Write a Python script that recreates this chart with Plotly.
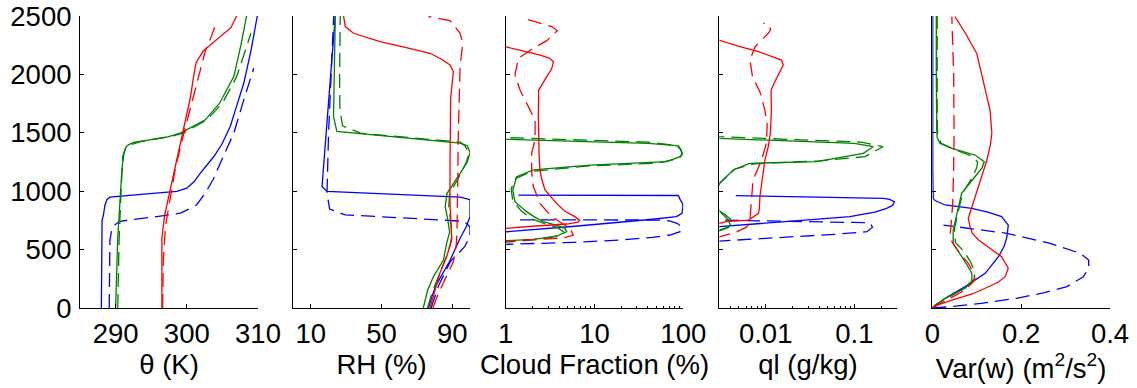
import plotly.graph_objects as go
import math

BLUE = "#0000ff"
GREEN = "#008000"
RED = "#ff0000"

# ---------------- Panel 1: theta (K) ----------------
TH_B_S_Z = [0, 300, 600, 750, 800, 880, 930, 949, 975, 998, 1026, 1080, 1155, 1297, 1400, 1554, 1750, 1924, 2200, 2500]
TH_B_S = [288.0, 288.0, 288.0, 288.1, 288.3, 288.5, 288.8, 289.2, 294.0, 298.6, 300.0, 301.0, 301.9, 303.8, 304.9, 306.1, 307.1, 308.0, 309.0, 309.9]
TH_B_D_Z = [0, 300, 580, 650, 698, 740, 755, 780, 812, 850, 884, 984, 1100, 1240, 1497, 1782, 2053]
TH_B_D = [289.1, 289.1, 289.2, 289.4, 289.6, 290.5, 292.0, 295.5, 299.1, 300.4, 301.4, 302.6, 303.7, 304.7, 306.6, 308.0, 309.4]
TH_G_S_Z = [0, 300, 600, 900, 1200, 1330, 1380, 1397, 1417, 1440, 1463, 1497, 1554, 1611, 1753, 1981, 2250, 2500]
TH_G_S = [290.0, 290.1, 290.3, 290.6, 290.9, 291.2, 291.5, 291.8, 292.5, 294.8, 297.2, 299.1, 300.9, 302.6, 304.6, 306.6, 307.6, 308.4]
TH_G_D_Z = [0, 300, 600, 900, 1200, 1300, 1370, 1400, 1425, 1450, 1475, 1500, 1554, 1611, 1753, 1981, 2200, 2352]
TH_G_D = [290.3, 290.35, 290.5, 290.7, 290.9, 291.0, 291.4, 292.2, 293.5, 296.0, 298.2, 299.6, 301.2, 302.8, 305.0, 307.0, 308.2, 309.0]
TH_R_S_Z = [0, 300, 600, 800, 1000, 1200, 1500, 1800, 2000, 2100, 2200, 2300, 2400, 2500]
TH_R_S = [296.5, 296.5, 296.5, 296.9, 297.6, 298.3, 299.4, 300.5, 301.0, 301.3, 302.3, 304.3, 306.2, 307.0]
TH_R_D_Z = [0, 400, 700, 900, 1200, 1500, 1800, 2000, 2200, 2300, 2420]
TH_R_D = [296.6, 296.7, 297.0, 297.6, 298.4, 299.6, 300.9, 301.8, 302.6, 303.3, 304.0]

# ---------------- Panel 2: RH (%) ----------------
RH_B_S_Z = [0, 100, 200, 400, 600, 700, 784, 850, 927, 949, 998, 1040, 1500, 2000, 2500]
RH_B_S = [76.5, 78.5, 81, 88.5, 94.5, 98, 100, 100, 100, 94.4, 19.2, 16.4, 18.6, 21.3, 23.9]
RH_B_D_Z = [0, 200, 400, 525, 600, 639, 690, 720, 743, 798, 847, 983, 1500, 2000, 2500]
RH_B_D = [78, 82.5, 89, 97, 99.5, 100, 100, 98.5, 95.9, 29.5, 20.7, 19.2, 20.1, 21.4, 23]
RH_G_S_Z = [0, 150, 268, 411, 554, 650, 750, 870, 980, 1100, 1250, 1330, 1390, 1411, 1511, 1639, 2000, 2500]
RH_G_S = [73.6, 76, 79.3, 85, 86.8, 88.5, 87.5, 86, 87, 92, 98.5, 100, 98.5, 94.4, 24.8, 22.9, 23.3, 23.9]
RH_G_D_Z = [0, 150, 300, 450, 554, 650, 750, 870, 980, 1100, 1250, 1330, 1390, 1420, 1497, 1560, 1700, 2000, 2500]
RH_G_D = [76, 79, 83, 87, 89, 90, 89, 88, 88.5, 93, 98, 99.5, 97, 94.5, 38, 28, 26.5, 26.3, 26.7]
RH_R_S_Z = [0, 150, 300, 450, 584, 700, 900, 1200, 1500, 1800, 2024, 2081, 2130, 2181, 2230, 2281, 2352, 2409, 2500]
RH_R_S = [77.4, 80, 83, 87, 89.7, 89.3, 88.7, 88.7, 89.0, 89.1, 90.6, 88.7, 84, 77.4, 64, 49.2, 34.2, 29.5, 28.6]
RH_R_D_Z = [0, 100, 250, 396, 550, 700, 1000, 1500, 2067, 2200, 2267, 2352, 2420, 2461, 2495]
RH_R_D = [79, 81.5, 86, 90.6, 92.3, 92.7, 93, 93.4, 94.4, 95.5, 95.9, 94.4, 91, 88.7, 76.5]

# ---------------- Panel 3: Cloud fraction (%) ----------------
CF_B_S_Z = [640, 653, 700, 733, 760, 782, 811, 860, 896, 930, 945, 963, 967]
CF_B_S = [0.85, 1.03, 6, 19.4, 45, 84, 96.6, 99, 98, 92, 90, 88, 1.39]
CF_B_D_Z = [540, 546, 562, 582, 605, 625, 653, 696, 725, 745, 753, 755]
CF_B_D = [0.85, 1.1, 5.8, 19.4, 45, 71, 92, 96, 85, 70, 60, 1.22]
CF_G_S_Z = [570, 576, 588, 616, 653, 682, 711, 739, 780, 825, 910, 1010, 1124, 1182, 1224, 1253, 1296, 1324, 1360, 1390, 1410, 1438, 1445]
CF_G_S = [0.9, 1.0, 2.05, 3.75, 4.86, 4.65, 3.6, 2.65, 2.1, 1.72, 1.27, 1.2, 1.33, 2.05, 8.9, 65, 92, 98, 92, 84, 40, 1.0, 0.9]
CF_G_D_Z = [560, 570, 590, 620, 650, 690, 720, 760, 830, 920, 1020, 1110, 1170, 1215, 1240, 1280, 1315, 1350, 1390, 1420, 1453, 1460]
CF_G_D = [0.9, 1.3, 2.5, 3.9, 4.5, 3.8, 2.8, 2.0, 1.5, 1.2, 1.15, 1.3, 2.0, 8, 50, 90, 97, 95, 88, 40, 1.0, 0.9]
CF_R_S_Z = [675, 682, 700, 719, 735, 750, 782, 830, 896, 960, 1010, 1100, 1182, 1300, 1450, 1638, 1866, 1981, 2050, 2109, 2140, 2166, 2209, 2237, 2245]
CF_R_S = [0.85, 1.0, 2.0, 4.9, 6.5, 6.8, 6.0, 4.6, 3.75, 3.2, 2.77, 2.55, 2.43, 2.38, 2.35, 2.33, 2.35, 2.9, 3.3, 3.45, 3.1, 2.45, 1.45, 1.0, 0.9]
CF_R_D_Z = [570, 576, 585, 600, 625, 682, 740, 796, 896, 1039, 1167, 1327, 1438, 1610, 1724, 1866, 1995, 2138, 2215, 2289, 2374, 2410, 2432, 2472]
CF_R_D = [0.9, 1.2, 2.5, 4.5, 5.76, 5.3, 4.0, 3.16, 2.43, 2.05, 1.96, 1.96, 2.14, 2.14, 1.8, 1.45, 1.27, 1.39, 1.96, 2.9, 3.81, 3.3, 2.61, 1.72]

# ---------------- Panel 4: ql (g/kg) ----------------
QL_B_S_Z = [690, 696, 740, 782, 820, 853, 880, 910, 930, 939, 962]
QL_B_S = [0.0029, 0.003, 0.0166, 0.089, 0.17, 0.231, 0.27, 0.282, 0.25, 0.212, 0.0046]
QL_B_D_Z = [565, 573, 631, 653, 690, 730, 753]
QL_B_D = [0.0028, 0.003, 0.06, 0.138, 0.16, 0.15, 0.0029]
QL_G_S_Z = [660, 668, 690, 710, 753, 800, 839, 900, 1000, 1060, 1096, 1182, 1239, 1253, 1324, 1381, 1410, 1452, 1460]
QL_G_S = [0.0028, 0.003, 0.0037, 0.004, 0.0038, 0.0033, 0.003, 0.0025, 0.0027, 0.003, 0.0033, 0.0043, 0.0066, 0.0376, 0.126, 0.163, 0.1, 0.003, 0.0028]
QL_G_D_Z = [650, 660, 690, 720, 760, 800, 830, 900, 1000, 1070, 1110, 1190, 1235, 1260, 1296, 1381, 1420, 1467, 1475]
QL_G_D = [0.0028, 0.003, 0.0038, 0.0042, 0.004, 0.0035, 0.003, 0.0026, 0.0028, 0.003, 0.0035, 0.0045, 0.0075, 0.04, 0.132, 0.21, 0.12, 0.003, 0.0028]
QL_R_S_Z = [715, 725, 739, 753, 811, 853, 953, 1100, 1267, 1381, 1498, 1695, 1866, 1938, 2080, 2123, 2195, 2243, 2289, 2300]
QL_R_S = [0.0028, 0.003, 0.0036, 0.0064, 0.0083, 0.0085, 0.0086, 0.0092, 0.0098, 0.0107, 0.0113, 0.0116, 0.0115, 0.0127, 0.0158, 0.0151, 0.0083, 0.0049, 0.003, 0.0028]
QL_R_D_Z = [600, 610, 645, 690, 725, 850, 1000, 1096, 1267, 1412, 1567, 1695, 1852, 1981, 2123, 2237, 2352, 2380, 2407, 2441]
QL_R_D = [0.0028, 0.003, 0.0045, 0.006, 0.0066, 0.0068, 0.007, 0.0072, 0.009, 0.0102, 0.0104, 0.0098, 0.0086, 0.0071, 0.00665, 0.0076, 0.0107, 0.0113, 0.0112, 0.0094]

# ---------------- Panel 5: Var(w) (m2/s2) ----------------
VW_B_S_Z = [0, 83, 183, 297, 439, 530, 610, 710, 782, 820, 853, 882, 920, 939, 1200, 2500]
VW_B_S = [0.0, 0.029, 0.074, 0.119, 0.149, 0.162, 0.168, 0.171, 0.156, 0.125, 0.089, 0.029, 0.006, 0.002, 0.001, 0.001]
VW_B_D_Z = [0, 11, 40, 83, 130, 183, 268, 340, 411, 468, 554, 639, 710]
VW_B_D = [0.0, 0.04, 0.11, 0.19, 0.25, 0.303, 0.34, 0.352, 0.352, 0.333, 0.265, 0.168, 0.025]
VW_G_S_Z = [0, 20, 83, 169, 225, 297, 370, 439, 554, 668, 811, 982, 1124, 1200, 1253, 1310, 1367, 1410, 1460, 1524, 2000, 2500]
VW_G_S = [0.0, 0.005, 0.029, 0.074, 0.089, 0.089, 0.078, 0.066, 0.047, 0.047, 0.055, 0.066, 0.096, 0.112, 0.117, 0.096, 0.044, 0.017, 0.011, 0.010, 0.009, 0.009]
VW_G_D_Z = [0, 30, 100, 170, 250, 320, 400, 482, 560, 680, 820, 980, 1120, 1200, 1250, 1300, 1360, 1410, 1470, 1600, 2500]
VW_G_D = [0.0, 0.008, 0.04, 0.072, 0.095, 0.095, 0.085, 0.072, 0.052, 0.050, 0.058, 0.068, 0.09, 0.1, 0.102, 0.09, 0.048, 0.02, 0.012, 0.011, 0.011]
VW_R_S_Z = [0, 11, 68, 120, 169, 220, 268, 340, 439, 520, 582, 640, 696, 768, 910, 1050, 1182, 1267, 1400, 1496, 1695, 1900, 2180, 2350, 2494]
VW_R_S = [0.0, 0.002, 0.044, 0.09, 0.119, 0.148, 0.164, 0.171, 0.156, 0.125, 0.104, 0.09, 0.085, 0.081, 0.0925, 0.105, 0.115, 0.123, 0.131, 0.134, 0.130, 0.118, 0.10, 0.075, 0.051]
VW_R_D_Z = [0, 50, 154, 240, 300, 383, 482, 560, 625, 700, 900, 1200, 1500, 2000, 2300, 2494]
VW_R_D = [0.0, 0.025, 0.074, 0.096, 0.093, 0.081, 0.059, 0.045, 0.040, 0.042, 0.046, 0.048, 0.049, 0.048, 0.046, 0.044]

X_TITLES = ["θ (K)", "RH (%)", "Cloud Fraction (%)", "ql (g/kg)", "Var(w) (m<sup>2</sup>/s<sup>2</sup>)"]
X_TICKVALS = [[290, 300, 310], [10, 50, 90], [1, 10, 100], [0.01, 0.1], [0, 0.2, 0.4]]
X_TICKTEXT = [["290", "300", "310"], ["10", "50", "90"], ["1", "10", "100"], ["0.01", "0.1"], ["0", "0.2", "0.4"]]
X_RANGES = [[285, 310], [0, 100], [0, 2], [math.log10(0.003), math.log10(0.3)], [0, 0.4]]
X_TYPES = ["linear", "linear", "log", "log", "linear"]
Y_TICKVALS = [0, 500, 1000, 1500, 2000, 2500]

PANELS = [
    [(TH_B_S_Z, TH_B_S, BLUE, False), (TH_B_D_Z, TH_B_D, BLUE, True), (TH_G_S_Z, TH_G_S, GREEN, False),
     (TH_G_D_Z, TH_G_D, GREEN, True), (TH_R_S_Z, TH_R_S, RED, False), (TH_R_D_Z, TH_R_D, RED, True)],
    [(RH_B_S_Z, RH_B_S, BLUE, False), (RH_B_D_Z, RH_B_D, BLUE, True), (RH_G_S_Z, RH_G_S, GREEN, False),
     (RH_G_D_Z, RH_G_D, GREEN, True), (RH_R_S_Z, RH_R_S, RED, False), (RH_R_D_Z, RH_R_D, RED, True)],
    [(CF_B_S_Z, CF_B_S, BLUE, False), (CF_B_D_Z, CF_B_D, BLUE, True), (CF_G_S_Z, CF_G_S, GREEN, False),
     (CF_G_D_Z, CF_G_D, GREEN, True), (CF_R_S_Z, CF_R_S, RED, False), (CF_R_D_Z, CF_R_D, RED, True)],
    [(QL_B_S_Z, QL_B_S, BLUE, False), (QL_B_D_Z, QL_B_D, BLUE, True), (QL_G_S_Z, QL_G_S, GREEN, False),
     (QL_G_D_Z, QL_G_D, GREEN, True), (QL_R_S_Z, QL_R_S, RED, False), (QL_R_D_Z, QL_R_D, RED, True)],
    [(VW_B_S_Z, VW_B_S, BLUE, False), (VW_B_D_Z, VW_B_D, BLUE, True), (VW_G_S_Z, VW_G_S, GREEN, False),
     (VW_G_D_Z, VW_G_D, GREEN, True), (VW_R_S_Z, VW_R_S, RED, False), (VW_R_D_Z, VW_R_D, RED, True)],
]

W, H = 1137, 388
X_PIX = [(80, 258), (293, 470), (505.7, 683.3), (719.3, 896.7), (932.3, 1110)]
Y_DOM = [1 - 308 / H, 1 - 16 / H]
FONT = dict(family="Liberation Sans, Arial, Helvetica, sans-serif", size=27.5, color="black")

fig = go.Figure()
layout = dict(
    width=W, height=H, margin=dict(l=0, r=0, t=0, b=0, autoexpand=False),
    paper_bgcolor="white", plot_bgcolor="white", showlegend=False, font=FONT,
)

for i, curves in enumerate(PANELS):
    n = "" if i == 0 else str(i + 1)
    for z, v, col, dashed in curves:
        fig.add_trace(go.Scatter(
            x=v, y=z, mode="lines", xaxis="x" + n, yaxis="y" + n,
            line=dict(color=col, width=1.3, dash="14px,7px" if dashed else "solid"),
            hoverinfo="skip", showlegend=False,
        ))
    xa = dict(
        domain=[X_PIX[i][0] / W, X_PIX[i][1] / W], anchor="y" + n, type=X_TYPES[i],
        range=X_RANGES[i], tickvals=X_TICKVALS[i], ticktext=X_TICKTEXT[i],
        showline=True, linecolor="black", linewidth=1, ticks="inside", ticklen=4,
        tickcolor="black", showgrid=False, zeroline=False, tickfont=FONT,
        ticklabelstandoff=1, automargin=False, ticklabeloverflow="allow",
        title=dict(text=X_TITLES[i], font=FONT, standoff=3),
    )
    if X_TYPES[i] == "log":
        xa["minor"] = dict(ticks="inside", ticklen=2, tickcolor="black", dtick="D1", showgrid=False)
    ya = dict(
        domain=Y_DOM, anchor="x" + n, range=[0, 2500], tickvals=Y_TICKVALS,
        showline=True, linecolor="black", linewidth=1, ticks="inside", ticklen=4,
        tickcolor="black", showgrid=False, zeroline=False, tickfont=FONT,
        showticklabels=(i == 0), ticklabelstandoff=2, automargin=False,
        ticklabeloverflow="allow",
    )
    layout["xaxis" + n] = xa
    layout["yaxis" + n] = ya

fig.update_layout(**layout)
# Remove the browser's default 8px body margin so the figure fills the window exactly.
fig.write_html(
    "out.html",
    config={"displayModeBar": False},
    post_script="document.body.style.margin='0px';document.body.style.overflow='hidden';",
)
